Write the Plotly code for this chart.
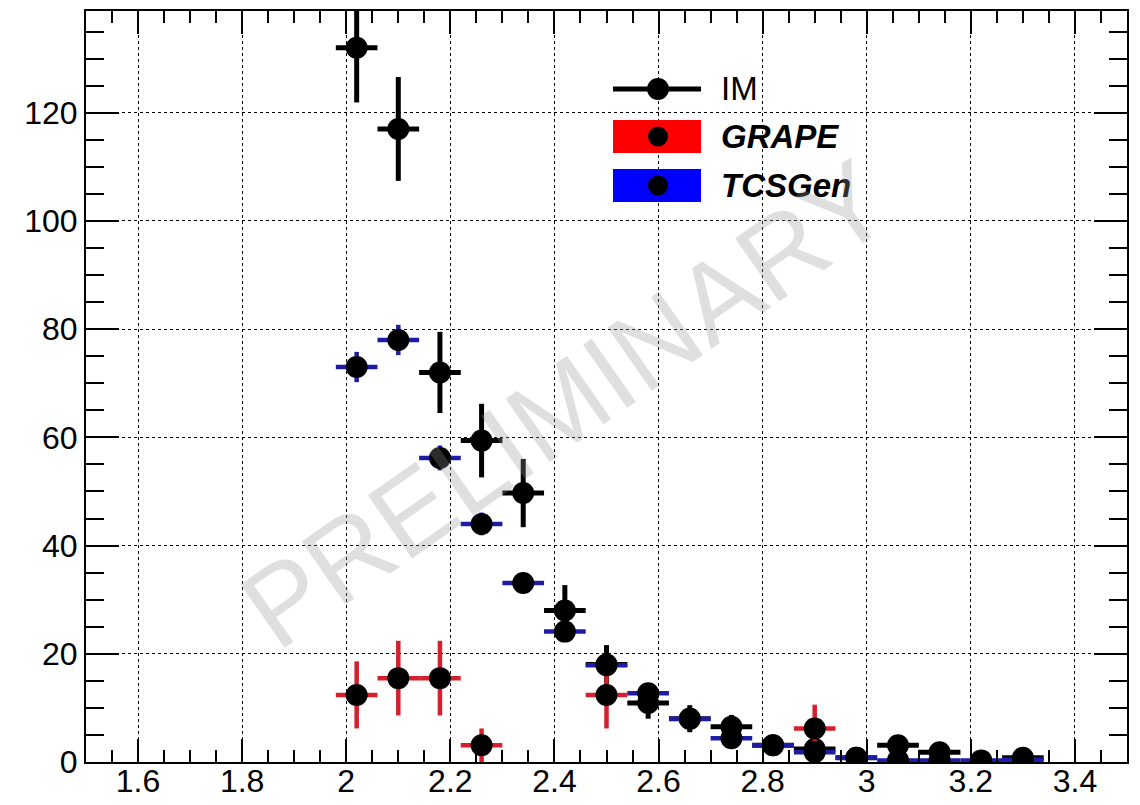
import plotly.graph_objects as go

# ---------------- data ----------------
im_x = [2.02, 2.10, 2.18, 2.26, 2.34, 2.42, 2.50, 2.58, 2.66, 2.74, 2.82, 2.90, 2.98, 3.06, 3.14, 3.30]
im_y = [132.0, 117.0, 72.0, 59.4, 49.7, 28.0, 18.0, 10.9, 8.0, 6.5, 3.1, 2.4, 0.8, 3.1, 1.8, 0.8]
im_err = [10.1, 9.6, 7.5, 6.8, 6.3, 4.7, 3.6, 2.9, 2.5, 2.2, 1.6, 1.4, 0.8, 1.6, 1.2, 0.8]

grape_x = [2.02, 2.10, 2.18, 2.26, 2.50, 2.90]
grape_y = [12.4, 15.5, 15.5, 3.1, 12.4, 6.2]
grape_err = [6.2, 6.9, 6.9, 3.1, 6.2, 4.4]

tcs_x = [2.02, 2.10, 2.18, 2.26, 2.34, 2.42, 2.50, 2.58, 2.66, 2.74, 2.82, 2.90, 2.98, 3.06, 3.14, 3.22, 3.30]
tcs_y = [73.0, 78.0, 56.2, 44.0, 33.1, 24.1, 17.9, 12.7, 8.0, 4.4, 3.1, 1.8, 0.8, 0.3, 0.3, 0.3, 0.4]
tcs_err = [2.8, 2.8, 2.3, 2.1, 1.8, 1.6, 1.3, 1.1, 0.9, 0.7, 0.6, 0.4, 0.3, 0.2, 0.2, 0.2, 0.2]

half_bin = 0.04
x_tick_vals = [1.6, 1.8, 2.0, 2.2, 2.4, 2.6, 2.8, 3.0, 3.2, 3.4]
x_tick_text = ["1.6", "1.8", "2", "2.2", "2.4", "2.6", "2.8", "3", "3.2", "3.4"]
y_tick_vals = [0, 20, 40, 60, 80, 100, 120]
y_tick_text = ["0", "20", "40", "60", "80", "100", "120"]

legend_labels = ["IM", "<b><i>GRAPE</i></b>", "<b><i>TCSGen</i></b>"]
watermark = "PRELIMINARY"

# ---------------- layout geometry ----------------
W, H = 1140, 805
L, R, T, B = 86, 13, 11, 43
PW, PH = W - L - R, H - T - B


def px(xp):
    return (xp - L) / PW


def py(yp):
    return (H - B - yp) / PH


FONT = "Liberation Sans, Arial, Helvetica, sans-serif"
marker = dict(color="black", size=22, symbol="circle", line=dict(width=0))

fig = go.Figure()


def add_series(xs, ys, errs, barcolor, thick):
    fig.add_trace(go.Scatter(
        x=xs, y=ys, mode="markers", marker=marker, showlegend=False,
        error_y=dict(type="data", array=errs, visible=True, color=barcolor, thickness=thick, width=0),
        error_x=dict(type="data", array=[half_bin] * len(xs), visible=True, color=barcolor, thickness=thick, width=0),
        cliponaxis=True,
    ))


add_series(im_x, im_y, im_err, "black", 5)
add_series(grape_x, grape_y, grape_err, "#d41f2c", 4.5)
add_series(tcs_x, tcs_y, tcs_err, "#1c1ca6", 4.5)

axis_common = dict(
    showline=True, mirror="allticks", linecolor="black", linewidth=2,
    ticks="inside", tickcolor="black", tickwidth=2,
    showgrid=True, gridcolor="black", gridwidth=1, griddash="dot",
    zeroline=False, automargin=False,
    tickfont=dict(family=FONT, size=32, color="black"),
)

fig.update_xaxes(
    range=[1.5, 3.5], tickvals=x_tick_vals, ticktext=x_tick_text, ticklen=23,
    ticklabelstandoff=-10,
    minor=dict(dtick=0.05, tick0=1.5, ticks="inside", ticklen=12, tickcolor="black", tickwidth=2, showgrid=False),
    **axis_common,
)
fig.update_yaxes(
    range=[0, 138.8], tickvals=y_tick_vals, ticktext=y_tick_text, ticklen=33,
    minor=dict(dtick=5, tick0=0, ticks="inside", ticklen=18, tickcolor="black", tickwidth=2, showgrid=False),
    **axis_common,
)

# ---------------- hand-drawn legend (ROOT style) ----------------
shapes = []
leg_x0, leg_x1, leg_cx = 613, 701, 658
rows_y = [89, 136.5, 185.5]
# IM: line + marker
shapes.append(dict(type="line", xref="paper", yref="paper", x0=px(leg_x0), x1=px(leg_x1),
                   y0=py(rows_y[0]), y1=py(rows_y[0]), line=dict(color="black", width=5)))
# GRAPE & TCSGen: filled boxes
for yc, col in [(rows_y[1], "#ff0000"), (rows_y[2], "#0000ff")]:
    shapes.append(dict(type="rect", xref="paper", yref="paper", x0=px(leg_x0), x1=px(leg_x1),
                       y0=py(yc + 16.5), y1=py(yc - 16.5), fillcolor=col, line=dict(width=0)))
for yc, d in [(rows_y[0], 22), (rows_y[1], 20), (rows_y[2], 20)]:
    shapes.append(dict(type="circle", xref="paper", yref="paper", xsizemode="pixel", ysizemode="pixel",
                       xanchor=px(leg_cx), yanchor=py(yc), x0=-d / 2, x1=d / 2, y0=-d / 2, y1=d / 2,
                       fillcolor="black", line=dict(width=0)))

annotations = []
for lab, yc in zip(legend_labels, rows_y):
    annotations.append(dict(text=lab, xref="paper", yref="paper", x=px(719), y=py(yc),
                            xanchor="left", yanchor="middle", showarrow=False,
                            font=dict(family=FONT, size=33, color="black")))

annotations.append(dict(text=watermark, xref="paper", yref="paper", x=px(565), y=py(405),
                        xanchor="center", yanchor="middle", showarrow=False, textangle=-35,
                        font=dict(family=FONT, size=112, color="rgba(150,150,150,0.3)")))

fig.update_layout(
    width=W, height=H,
    margin=dict(l=L, r=R, t=T, b=B, pad=0, autoexpand=False),
    paper_bgcolor="white", plot_bgcolor="white",
    shapes=shapes, annotations=annotations,
    showlegend=False,
)

fig.write_html("out.html", config={"displayModeBar": False})
